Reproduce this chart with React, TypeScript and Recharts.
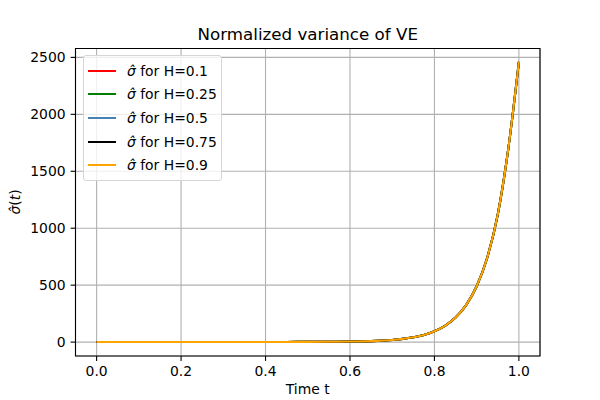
import React from 'react';
import { LineChart, Line, XAxis, YAxis, CartesianGrid, ReferenceArea } from 'recharts';

// time grid (denser where the curve bends)
const times = [
  0, 0.05, 0.1, 0.15, 0.2, 0.25, 0.3, 0.35, 0.4, 0.45, 0.5, 0.55, 0.6, 0.65,
  0.7, 0.725, 0.75, 0.775, 0.8, 0.825, 0.85, 0.875, 0.9, 0.925, 0.95, 0.975, 1.0,
];

// the five curves lie on top of each other in the reference
const sigmaH01 = [1, 1, 1, 1, 1, 1, 1, 1, 1, 1.5, 2, 3, 5, 9, 19, 28, 42, 62, 95, 143, 215, 325, 490, 740, 1120, 1700, 2460];
const sigmaH025 = [1, 1, 1, 1, 1, 1, 1, 1, 1, 1.5, 2, 3, 5, 9, 19, 28, 42, 62, 95, 143, 215, 325, 490, 740, 1120, 1700, 2460];
const sigmaH05 = [1, 1, 1, 1, 1, 1, 1, 1, 1, 1.5, 2, 3, 5, 9, 19, 28, 42, 62, 95, 143, 215, 325, 490, 740, 1120, 1700, 2460];
const sigmaH075 = [1, 1, 1, 1, 1, 1, 1, 1, 1, 1.5, 2, 3, 5, 9, 19, 28, 42, 62, 95, 143, 215, 325, 490, 740, 1120, 1700, 2460];
const sigmaH09 = [1, 1, 1, 1, 1, 1, 1, 1, 1, 1.5, 2, 3, 5, 9, 19, 28, 42, 62, 95, 143, 215, 325, 490, 740, 1120, 1700, 2460];

const xTicks = [0, 0.2, 0.4, 0.6, 0.8, 1.0];
const yTicks = [0, 500, 1000, 1500, 2000, 2500];

const series = [
  { key: 'h01', label: '0.1', color: '#ff0000', values: sigmaH01 },
  { key: 'h025', label: '0.25', color: '#008000', values: sigmaH025 },
  { key: 'h05', label: '0.5', color: '#4682b4', values: sigmaH05 },
  { key: 'h075', label: '0.75', color: '#000000', values: sigmaH075 },
  { key: 'h09', label: '0.9', color: '#ffa500', values: sigmaH09 },
];

const chartData = times.map((t, i) => {
  const row: Record<string, number> = { t };
  series.forEach((s) => {
    row[s.key] = s.values[i];
  });
  return row;
});

const FONT = '"DejaVu Sans", sans-serif';
const X_DOMAIN: [number, number] = [-0.05, 1.05];
const Y_DOMAIN: [number, number] = [-122, 2578];

const tickStyle = { fontSize: 13.9, fill: '#000', fontFamily: FONT };

function SigmaHat() {
  return <span style={{ fontStyle: 'italic' }}>σ&#770;</span>;
}

function ChartLegend() {
  return (
    <div
      style={{
        position: 'absolute',
        left: 83,
        top: 55,
        width: 139,
        border: '1px solid #d6d6d6',
        borderRadius: 3,
        background: 'rgba(255,255,255,0.8)',
        padding: '3px 0 3px 4px',
        fontFamily: FONT,
        fontSize: 13.9,
        color: '#000',
        boxSizing: 'border-box',
      }}
    >
      {series.map((s) => (
        <div key={s.key} style={{ display: 'flex', alignItems: 'center', height: 23.6 }}>
          <div style={{ width: 28, height: 2, background: s.color, marginRight: 11 }} />
          <span>
            <SigmaHat /> for H={s.label}
          </span>
        </div>
      ))}
    </div>
  );
}

export default function App() {
  return (
    <div style={{ position: 'absolute', left: 0, top: 0, width: 600, height: 400, background: '#fff', fontFamily: FONT }}>
      <div
        style={{
          position: 'absolute',
          left: 75.5,
          width: 464.5,
          top: 24,
          lineHeight: '20px',
          textAlign: 'center',
          fontSize: 16.7,
          color: '#000',
        }}
      >
        Normalized variance of VE
      </div>
      <div
        style={{
          position: 'absolute',
          left: 75.5,
          width: 464.5,
          top: 380,
          lineHeight: '18px',
          textAlign: 'center',
          fontSize: 13.9,
          color: '#000',
        }}
      >
        Time t
      </div>
      <div
        style={{
          position: 'absolute',
          left: 15,
          top: 202,
          transform: 'translate(-50%, -50%) rotate(-90deg)',
          whiteSpace: 'nowrap',
          fontSize: 13.9,
          color: '#000',
        }}
      >
        <SigmaHat />(<span style={{ fontStyle: 'italic' }}>t</span>)
      </div>
      <LineChart
        width={600}
        height={400}
        data={chartData}
        margin={{ top: 48.5, right: 60, bottom: 0, left: 0 }}
        style={{ position: 'absolute', left: 0, top: 0 }}
      >
        <CartesianGrid stroke="#b0b0b0" strokeWidth={1.1} />
        <XAxis
          dataKey="t"
          type="number"
          domain={X_DOMAIN}
          ticks={xTicks}
          allowDataOverflow
          height={44}
          axisLine={false}
          tickLine={{ stroke: '#000', strokeWidth: 1.1 }}
          tickSize={4.9}
          tickMargin={5}
          tick={tickStyle}
          tickFormatter={(v: number) => v.toFixed(1)}
        />
        <YAxis
          type="number"
          domain={Y_DOMAIN}
          ticks={yTicks}
          allowDataOverflow
          width={75.5}
          axisLine={false}
          tickLine={{ stroke: '#000', strokeWidth: 1.1 }}
          tickSize={4.9}
          tickMargin={5}
          tick={tickStyle}
        />
        {series.map((s) => (
          <Line
            key={s.key}
            type="monotone"
            dataKey={s.key}
            stroke={s.color}
            strokeWidth={2.1}
            dot={false}
            isAnimationActive={false}
          />
        ))}
        <ReferenceArea
          x1={X_DOMAIN[0]}
          x2={X_DOMAIN[1]}
          y1={Y_DOMAIN[0]}
          y2={Y_DOMAIN[1]}
          fill="none"
          fillOpacity={0}
          stroke="#000"
          strokeWidth={1.1}
          ifOverflow="extendDomain"
        />
      </LineChart>
      <ChartLegend />
    </div>
  );
}
